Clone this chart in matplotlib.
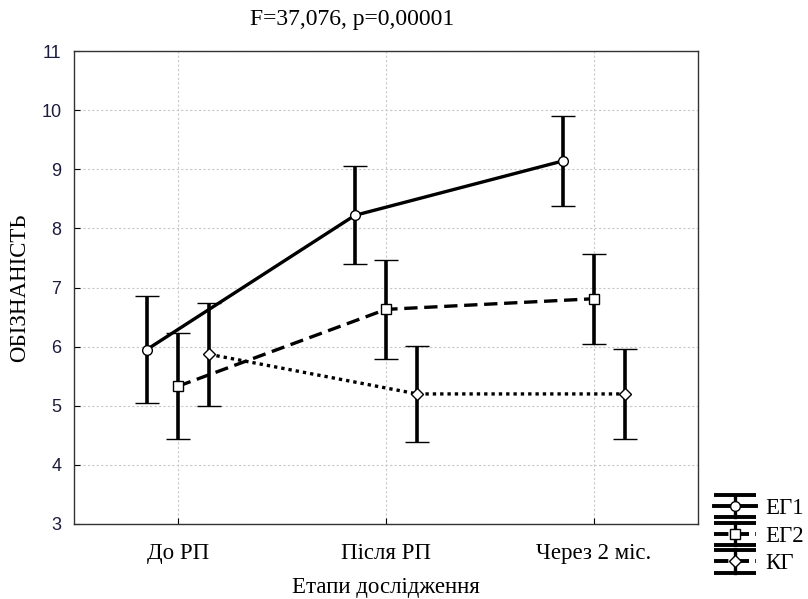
import numpy as np
import matplotlib.pyplot as plt
from matplotlib.lines import Line2D
from matplotlib.legend_handler import HandlerBase
from matplotlib.container import ErrorbarContainer

stages = ['До РП', 'Після РП', 'Через 2 міс.']
groups = ['ЕГ1', 'ЕГ2', 'КГ']

eg1_mean = [5.95, 8.22, 9.14]
eg1_err = [0.90, 0.83, 0.76]
eg2_mean = [5.33, 6.63, 6.81]
eg2_err = [0.90, 0.84, 0.76]
kg_mean = [5.87, 5.20, 5.20]
kg_err = [0.87, 0.81, 0.76]

means = [eg1_mean, eg2_mean, kg_mean]
errs = [eg1_err, eg2_err, kg_err]
styles = ['-', (0, (4, 2)), (0, (1, 1.2))]
markers = ['o', 's', 'D']
msizes = [7, 7, 6]
shifts = [-0.15, 0.0, 0.15]

serif = 'Liberation Serif'
sans = 'Liberation Sans'
fs = 16.5


class ErrHandler(HandlerBase):
    # STATISTICA-style key: cap line, line with marker, cap line
    def create_artists(self, legend, orig_handle, xdescent, ydescent,
                       width, height, fontsize, trans):
        line = orig_handle.lines[0]
        yc = height / 2 - ydescent
        x0, x1 = -xdescent, width - xdescent
        xm = (x0 + x1) / 2
        d = 8.0
        arts = []
        for yy in (yc - d, yc + d):
            arts.append(Line2D([x0, x1], [yy, yy], color='black', lw=2.8,
                               solid_capstyle='butt', transform=trans))
        arts.append(Line2D([xm, xm], [yc - d, yc + d], color='black', lw=2.4,
                           transform=trans))
        arts.append(Line2D([x0, x1], [yc, yc], color='black', lw=2.8,
                           linestyle=line.get_linestyle(), transform=trans))
        arts.append(Line2D([xm], [yc], marker=line.get_marker(),
                           markersize=line.get_markersize(),
                           markerfacecolor='white', markeredgecolor='black',
                           markeredgewidth=1, linestyle='none', transform=trans))
        return arts


fig = plt.figure(figsize=(8.08, 5.99), dpi=100)
ax = fig.add_axes([74 / 808, 1 - 524 / 599, 624 / 808, 473 / 599])

x = np.arange(len(stages))
conts = []
for m, e, ls, mk, ms, sh, g in zip(means, errs, styles, markers, msizes, shifts, groups):
    c = ax.errorbar(x + sh, m, yerr=e, color='black', linestyle=ls, lw=2.4,
                    marker=mk, markersize=ms, markerfacecolor='white',
                    markeredgecolor='black', markeredgewidth=1,
                    elinewidth=2.6, capsize=8.5, capthick=2.6, label=g)
    conts.append(c)

ax.set_xlim(-0.5, 2.5)
ax.set_ylim(3, 11)
ax.set_xticks(x)
ax.set_xticklabels(stages, family=serif, fontsize=fs)
ax.set_yticks(range(3, 12))
ax.set_yticklabels([str(v) for v in range(3, 12)], family=sans, fontsize=13,
                   color='#1c1c3c')
ax.tick_params(direction='in', length=4, width=0.8, pad=9)
ax.tick_params(axis='x', pad=14)
ax.grid(True, linestyle=(0, (2, 2)), color='#c8c8c8', lw=0.8)
for s in ax.spines.values():
    s.set_linewidth(1.0)
    s.set_color('#333333')

ax.set_xlabel('Етапи дослідження', family=serif, fontsize=fs, labelpad=9)
ax.set_ylabel('ОБІЗНАНІСТЬ', family=serif, fontsize=fs, labelpad=8)
fig.text(352 / 808, 1 - 20 / 599, 'F=37,076, p=0,00001', family=serif,
         fontsize=17, ha='center', va='center')

fig.legend(conts, groups, handler_map={ErrorbarContainer: ErrHandler()},
           loc='upper left', bbox_to_anchor=(714 / 808, 1 - 498 / 599),
           frameon=False, prop={'family': serif, 'size': fs},
           handlelength=1.85, handletextpad=0.4, labelspacing=0.29,
           borderaxespad=0, borderpad=0)

fig.savefig('out.png', dpi=100)
